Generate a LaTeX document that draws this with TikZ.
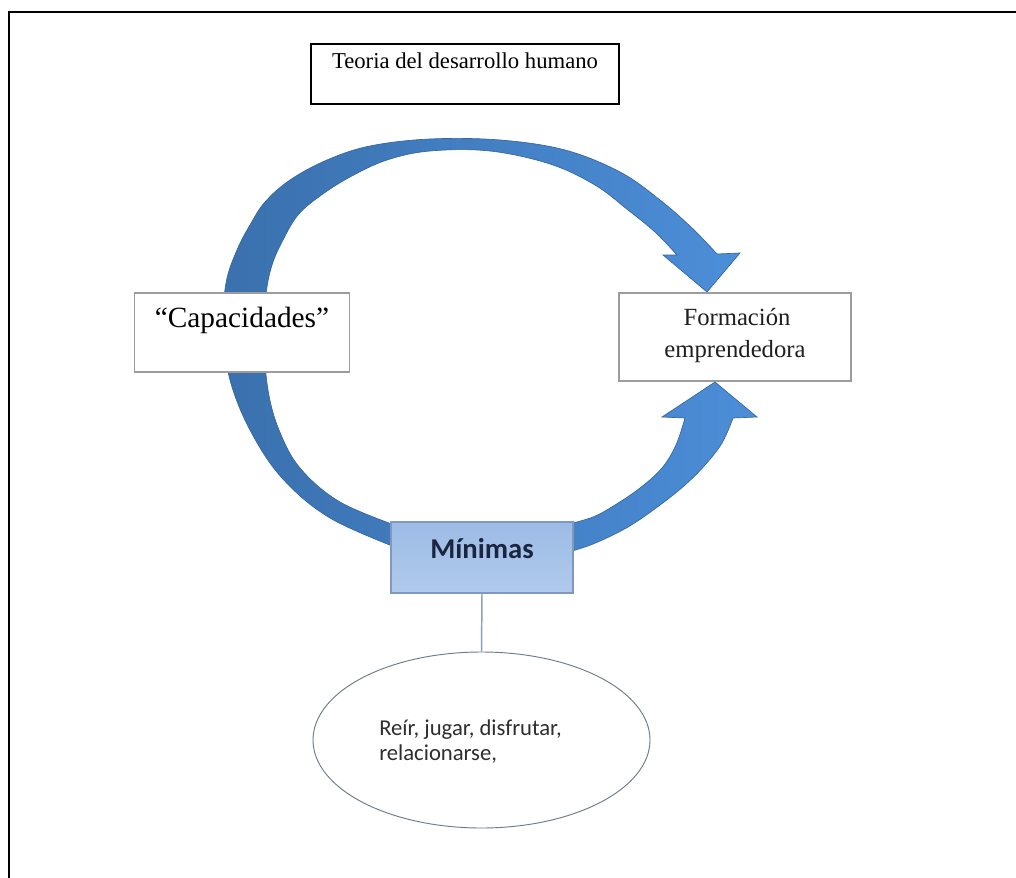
\documentclass[tikz,border=0pt]{standalone}
\usepackage{fontspec}
\setmainfont{Liberation Serif}
\newfontfamily\calibri{Carlito}
\usetikzlibrary{shapes.geometric}

\definecolor{arrowdark}{HTML}{3A70AD}
\definecolor{arrowmid}{HTML}{4482C8}
\definecolor{arrowlight}{HTML}{4C8ED8}
\definecolor{arrowedge}{HTML}{3566A0}
\definecolor{boxgray}{HTML}{9C9C9C}
\definecolor{mintop}{HTML}{9CBBE5}
\definecolor{minbottom}{HTML}{B0CAEC}
\definecolor{minedge}{HTML}{7F98BE}
\definecolor{mintext}{HTML}{1B2540}
\definecolor{ellgray}{HTML}{6E7B88}
\definecolor{linkgray}{HTML}{8EA0B5}
\definecolor{elltext}{HTML}{2E2E2E}

\tikzset{
  plainbox/.style={draw=boxgray, line width=1.1pt, fill=white, inner sep=0pt, rectangle},
  blockarrow/.style={draw=arrowedge, line width=0.5pt},
}

\begin{document}
\begin{tikzpicture}[x=0.75pt, y=-0.75pt]
\useasboundingbox (0,0) rectangle (1016,877);
\fill[white] (0,0) rectangle (1016,877);

% page frame, open to the right and bottom
\draw[line width=1.9pt, black] (9,885) -- (9,12) -- (1025,12);

% upper curved arrow: from Mínimas round the left side to Formación
\path[blockarrow, left color=arrowdark, right color=arrowlight]
  plot[smooth, tension=0.6] coordinates {
    (400,549) (330,518) (282,478) (250,430) (230,380) (223,330) (226,283)
    (237,250) (250,225) (265,202) (290,180) (327,160) (370,146) (430,139)
    (500,140) (565,150) (620,172) (660,200) (692,228) (717,254)}
  -- (740,253) -- (707,292) -- (663,255)
  -- plot[smooth, tension=0.6] coordinates {
    (677,255) (655,232) (628,210) (595,185) (550,164) (490,151) (430,151)
    (387,160) (350,177) (320,196) (298,215) (283,240) (272,265) (266,295)
    (264,340) (268,390) (279,430) (300,468) (340,502) (400,527)}
  -- cycle;

% lower curved arrow: from Mínimas up to Formación
\path[blockarrow, left color=arrowmid, right color=arrowlight]
  plot[smooth, tension=0.6] coordinates {
    (565,553) (593,544) (628,527) (660,505) (685,485) (705,465) (722,443) (733,418)}
  -- (757,417) -- (715,382) -- (662,417)
  -- plot[smooth, tension=0.6] coordinates {
    (685,418) (676,445) (662,468) (640,488) (615,505) (593,517) (565,525)}
  -- cycle;

% title box
\node (title) [draw=black, line width=1.5pt, fill=white, inner sep=0pt,
  minimum width=231pt, text height=18.75pt, text depth=26.25pt, anchor=base]
  at (465,69) {\fontsize{17pt}{20pt}\selectfont Teoria del desarrollo humano};

% side boxes
\node (cap) [plainbox, minimum width=161.25pt, text height=25.5pt,
  text depth=33.75pt, anchor=base]
  at (242,327) {\fontsize{22pt}{26pt}\selectfont “Capacidades”};

\node (form) [plainbox, minimum width=174pt, minimum height=66pt] at (735,337) {};
\node (form1) [anchor=base, inner sep=0pt, text=black!88]
  at (737,325) {\fontsize{18.5pt}{22pt}\selectfont Formación};
\node (form2) [anchor=base, inner sep=0pt, text=black!88]
  at (735,357) {\fontsize{18.5pt}{22pt}\selectfont emprendedora};

% central box
\node (min) [draw=minedge, line width=0.8pt, top color=mintop, bottom color=minbottom,
  inner sep=0pt, minimum width=136.5pt, text height=27pt, text depth=26.25pt,
  anchor=base, text=mintext]
  at (482,558) {\calibri\bfseries\fontsize{21.5pt}{26pt}\selectfont Mínimas};

% ellipse with its text
\node (ell) [ellipse, draw=ellgray, line width=0.7pt, fill=white, inner sep=0pt,
  minimum width=252.75pt, minimum height=132pt] at (481.5,740) {};
\node (ell1) [anchor=base west, inner sep=0pt, text=elltext]
  at (379,735) {\calibri\fontsize{17pt}{20pt}\selectfont Reír, jugar, disfrutar,};
\node (ell2) [anchor=base west, inner sep=0pt, text=elltext]
  at (379,760) {\calibri\fontsize{17pt}{20pt}\selectfont relacionarse,};

% connector from the central box down to the ellipse
\draw[linkgray, line width=1.1pt] (min.south) -- (ell.north);

\end{tikzpicture}
\end{document}
